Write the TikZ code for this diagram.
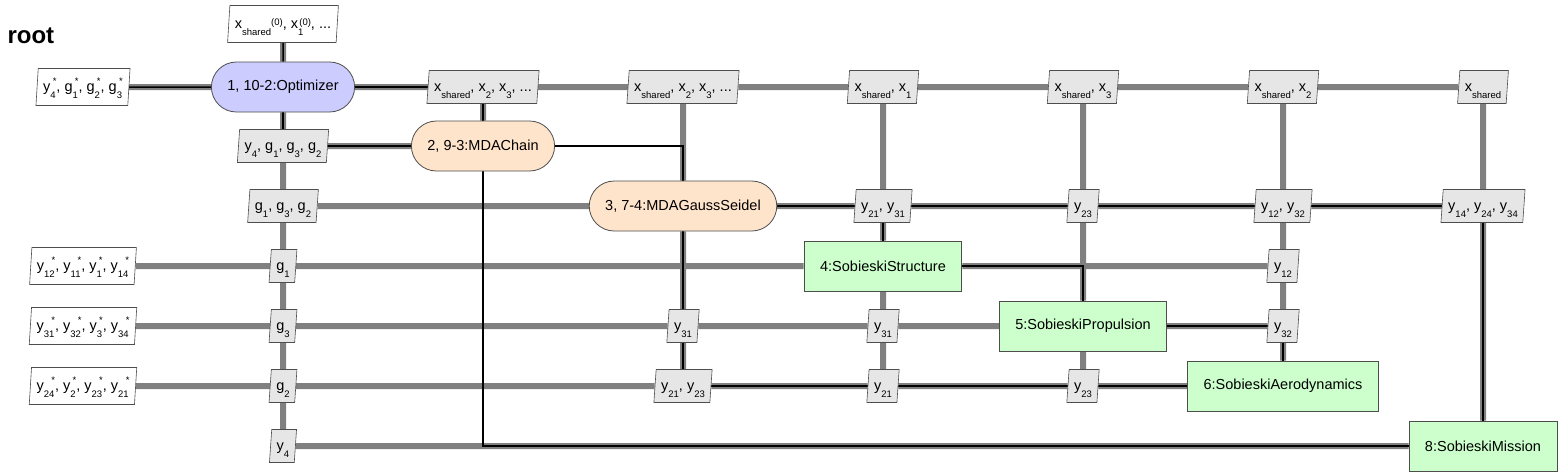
\documentclass[tikz,border=0pt]{standalone}
\usepackage{fontspec}
\setmainfont{Liberation Sans}
\usetikzlibrary{shapes.geometric,backgrounds}
\definecolor{optfill}{HTML}{CCCCFF}
\definecolor{mdafill}{HTML}{FFE4CC}
\definecolor{discfill}{HTML}{CCFFCC}
\definecolor{datafill}{HTML}{E6E6E6}
\definecolor{linegray}{HTML}{808080}
\definecolor{edgegray}{HTML}{4D4D4D}
\newcommand{\nodefnt}{\fontsize{14.5}{17}\selectfont}
\newcommand{\subfnt}{\fontsize{9.5}{10}\selectfont}
\newcommand{\vsub}[2]{#1\raisebox{-7pt}{\subfnt #2}}
\newcommand{\vopt}[2]{\vsub{#1}{#2}\kern-3pt\raisebox{7.5pt}{\subfnt *}}
\newcommand{\vini}[2]{\vsub{#1}{#2}\kern-4pt\raisebox{3.5pt}{\subfnt (0)}}

\begin{document}
\begin{tikzpicture}[x=1pt, y=-1pt,
  proc/.style={draw=edgegray, line width=0.8pt, rounded corners=25pt, minimum height=50pt, inner xsep=16pt, font=\nodefnt},
  optbox/.style={proc, fill=optfill},
  mdabox/.style={proc, fill=mdafill},
  discbox/.style={draw=edgegray, line width=0.8pt, fill=discfill, minimum height=50pt, inner xsep=16pt, font=\nodefnt},
  databox/.style={trapezium, trapezium left angle=84, trapezium right angle=96, trapezium stretches=true, draw=edgegray, line width=0.6pt, fill=datafill, minimum height=33pt, inner xsep=5pt, text height=12pt, text depth=3pt, font=\nodefnt},
  iobox/.style={databox, fill=white, minimum height=37pt},
  datal/.style={draw=linegray, line width=6pt},
  procl/.style={draw=black, line width=1.5pt}
]
\useasboundingbox (0,0) rectangle (1561,475);
\node[anchor=base west, font=\fontsize{24}{28}\selectfont\bfseries] (title) at (4,43) {root};

% processes
\node[optbox] (opt) at (283,87) {1, 10-2:Optimizer};
\node[mdabox] (mda) at (483,146) {2, 9-3:MDAChain};
\node[mdabox] (gs) at (683,206) {3, 7-4:MDAGaussSeidel};
\node[discbox] (str) at (883,266) {4:SobieskiStructure};
\node[discbox] (prop) at (1083,326) {5:SobieskiPropulsion};
\node[discbox] (aero) at (1283,386) {6:SobieskiAerodynamics};
\node[discbox] (mis) at (1483,446) {8:SobieskiMission};

% inputs and outputs
\node[iobox] (in0) at (283,24) {\vsub{x}{shared}\raisebox{3.5pt}{\subfnt (0)}, \vini{x}{1}, ...};
\node[iobox] (out0) at (83,87) {\vopt{y}{4}, \vopt{g}{1}, \vopt{g}{2}, \vopt{g}{3}};
\node[iobox] (out3) at (83,266) {\vopt{y}{12}, \vopt{y}{11}, \vopt{y}{1}, \vopt{y}{14}};
\node[iobox] (out4) at (83,326) {\vopt{y}{31}, \vopt{y}{32}, \vopt{y}{3}, \vopt{y}{34}};
\node[iobox] (out5) at (83,386) {\vopt{y}{24}, \vopt{y}{2}, \vopt{y}{23}, \vopt{y}{21}};

% exchanged data
\node[databox] (d01) at (483,87) {\vsub{x}{shared}, \vsub{x}{2}, \vsub{x}{3}, ...};
\node[databox] (d02) at (683,87) {\vsub{x}{shared}, \vsub{x}{2}, \vsub{x}{3}, ...};
\node[databox] (d03) at (883,87) {\vsub{x}{shared}, \vsub{x}{1}};
\node[databox] (d04) at (1083,87) {\vsub{x}{shared}, \vsub{x}{3}};
\node[databox] (d05) at (1283,87) {\vsub{x}{shared}, \vsub{x}{2}};
\node[databox] (d06) at (1483,87) {\vsub{x}{shared}};
\node[databox] (d10) at (283,146) {\vsub{y}{4}, \vsub{g}{1}, \vsub{g}{3}, \vsub{g}{2}};
\node[databox] (d20) at (283,206) {\vsub{g}{1}, \vsub{g}{3}, \vsub{g}{2}};
\node[databox] (d23) at (883,206) {\vsub{y}{21}, \vsub{y}{31}};
\node[databox] (d24) at (1083,206) {\vsub{y}{23}};
\node[databox] (d25) at (1283,206) {\vsub{y}{12}, \vsub{y}{32}};
\node[databox] (d26) at (1483,206) {\vsub{y}{14}, \vsub{y}{24}, \vsub{y}{34}};
\node[databox] (d30) at (283,266) {\vsub{g}{1}};
\node[databox] (d35) at (1283,266) {\vsub{y}{12}};
\node[databox] (d40) at (283,326) {\vsub{g}{3}};
\node[databox] (d42) at (683,326) {\vsub{y}{31}};
\node[databox] (d43) at (883,326) {\vsub{y}{31}};
\node[databox] (d45) at (1283,326) {\vsub{y}{32}};
\node[databox] (d50) at (283,386) {\vsub{g}{2}};
\node[databox] (d52) at (683,386) {\vsub{y}{21}, \vsub{y}{23}};
\node[databox] (d53) at (883,386) {\vsub{y}{21}};
\node[databox] (d54) at (1083,386) {\vsub{y}{23}};
\node[databox] (d60) at (283,446) {\vsub{y}{4}};

\begin{scope}[on background layer]
% data connections
\draw[datal] (in0) -- (opt) -- (d10) -- (d20) -- (d30) -- (d40) -- (d50) -- (d60);
\draw[datal] (out0) -- (opt) -- (d01) -- (d02) -- (d03) -- (d04) -- (d05) -- (d06);
\draw[datal] (d10) -- (mda);
\draw[datal] (d01) -- (mda);
\draw[datal] (d02) -- (gs) -- (d42) -- (d52);
\draw[datal] (d20) -- (gs) -- (d23) -- (d24) -- (d25) -- (d26);
\draw[datal] (d03) -- (d23) -- (str) -- (d43) -- (d53);
\draw[datal] (out3) -- (d30) -- (str) -- (d35);
\draw[datal] (d04) -- (d24) -- (prop) -- (d54);
\draw[datal] (out4) -- (d40) -- (d42) -- (d43) -- (prop) -- (d45);
\draw[datal] (d05) -- (d25) -- (d35) -- (d45) -- (aero);
\draw[datal] (out5) -- (d50) -- (d52) -- (d53) -- (d54) -- (aero);
\draw[datal] (d06) -- (d26) -- (mis);
\draw[datal] (d60) -- (mis);
% process flow
\draw[procl] (in0) -- (opt);
\draw[procl] (opt) -- (out0);
\draw[procl] (opt) -| (mda);
\draw[procl] (mda) -| (opt);
\draw[procl] (mda) -| (gs);
\draw[procl] (mda) |- (mis);
\draw[procl] (gs) |- (aero);
\draw[procl] (gs) -| (mis);
\draw[procl] (gs) -| (str);
\draw[procl] (str) -| (prop);
\draw[procl] (prop) -| (aero);
\end{scope}
\end{tikzpicture}
\end{document}
